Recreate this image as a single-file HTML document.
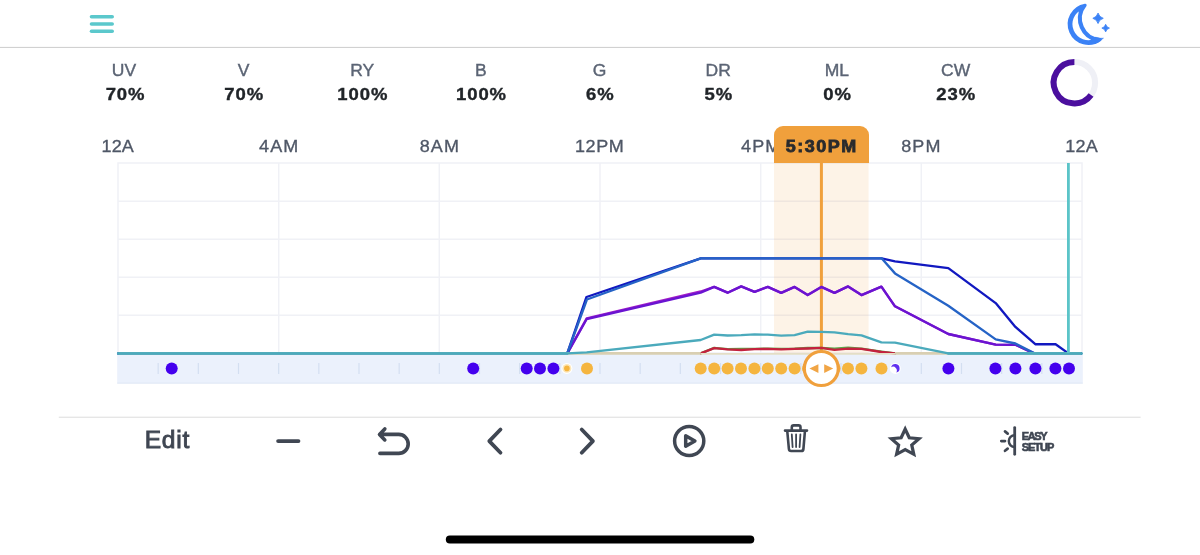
<!DOCTYPE html>
<html lang="en">
<head>
<meta charset="utf-8">
<title>Light Schedule</title>
<style>
  html,body{margin:0;padding:0;background:#fff;}
  body{width:1200px;height:555px;position:relative;overflow:hidden;font-family:"Liberation Sans",Arial,sans-serif;}
  #gfx{position:absolute;left:0;top:0;width:1200px;height:555px;}
  .chan{position:absolute;top:60px;width:118.67px;text-align:center;}
  .chan .l{font-size:17.5px;line-height:22px;color:#5b6474;height:22px;-webkit-text-stroke:0.4px #5b6474;position:relative;left:0px;transform:scaleY(0.92);transform-origin:50% 48%;}
  .chan .v{font-size:18.5px;line-height:24px;font-weight:bold;color:#212529;letter-spacing:0.9px;height:24px;-webkit-text-stroke:0.4px #212529;position:relative;left:0.6px;transform:scaleY(0.91);transform-origin:50% 58%;}
  .tick{position:absolute;top:136px;width:80px;margin-left:-40px;text-align:center;font-size:18px;line-height:20px;color:#4f5766;letter-spacing:1.1px;text-indent:1.1px;-webkit-text-stroke:0.35px #4f5766;transform:scaleY(0.94);transform-origin:50% 82%;}
  .tick.n{letter-spacing:0.2px;text-indent:0.2px;}
  .tick.m{letter-spacing:0.6px;text-indent:0.6px;}
  .tip{position:absolute;left:774px;top:126px;width:94.7px;height:37px;background:#f0a03c;border-radius:9px 9px 0 0;text-align:center;font-weight:bold;font-size:18px;line-height:41px;color:#2a2a2a;letter-spacing:1.5px;text-indent:0.4px;-webkit-text-stroke:0.85px #2a2c31;}
  .tip span{display:inline-block;transform:scaleY(0.94);transform-origin:50% 70%;}
  .edit{position:absolute;left:117px;top:424.4px;width:100px;text-align:center;font-size:24.6px;line-height:32px;color:#3f4652;-webkit-text-stroke:0.9px #3f4652;letter-spacing:0.75px;text-indent:0.75px;}
  .easy{position:absolute;left:1021.8px;top:431px;font-weight:bold;font-size:11px;line-height:11px;color:#3f4652;letter-spacing:-1.4px;-webkit-text-stroke:0.6px #3f4652;white-space:nowrap;}
  .easy span{letter-spacing:-1.05px;}
</style>
</head>
<body>
<svg id="gfx" viewBox="0 0 1200 555" width="1200" height="555">
  <!-- separators -->
  <rect x="0" y="46.9" width="1200" height="1" fill="#cdcdcd"/>
  <rect x="58.8" y="416.7" width="1081.8" height="1" fill="#dcdcdc"/>
  <!-- home indicator -->
  <rect x="445.8" y="535.4" width="308.5" height="8" rx="4" fill="#000"/>
  <!-- hamburger -->
  <g stroke="#5bc8cc" stroke-width="3.6" stroke-linecap="round">
    <line x1="91.5" y1="16.7" x2="112.2" y2="16.7"/>
    <line x1="91.5" y1="24" x2="112.2" y2="24"/>
    <line x1="91.5" y1="31.2" x2="112.2" y2="31.2"/>
  </g>
  <!-- moon -->
  <g id="moon" fill="#3b82f6">
    <path fill-rule="evenodd" stroke="#3b82f6" stroke-width="3" stroke-linejoin="round" d="M1085.15 5.19 A19.25 19.25 0 1 0 1100.12 39.46 A21.10 21.10 0 0 1 1085.15 5.19 Z M1082.09 7.79 A17.55 17.55 0 1 0 1096.13 39.93 A22.20 22.20 0 0 1 1082.09 7.79 Z"/>
    <path stroke="#3b82f6" stroke-width="0.3" stroke-linejoin="round" d="M1095 43.68 A20.6 20.6 0 0 0 1103.65 38.05 A19.75 19.75 0 0 1 1095 37.03 Z"/>
    <path stroke="#3b82f6" stroke-width="0.9" stroke-linejoin="round" d="M1098.05 13.100000000000001 Q1099.1499999999999 17.2 1103.25 18.3 Q1099.1499999999999 19.400000000000002 1098.05 23.5 Q1096.95 19.400000000000002 1092.85 18.3 Q1096.95 17.2 1098.05 13.100000000000001 Z"/>
    <path stroke="#3b82f6" stroke-width="0.8" stroke-linejoin="round" d="M1105.65 24.3 Q1106.45 27.3 1109.45 28.1 Q1106.45 28.900000000000002 1105.65 31.900000000000002 Q1104.8500000000001 28.900000000000002 1101.8500000000001 28.1 Q1104.8500000000001 27.3 1105.65 24.3 Z"/>
  </g>
  <!-- progress ring -->
  <circle cx="1074.4" cy="82.7" r="20.7" fill="none" stroke="#eff0f6" stroke-width="6"/>
  <path d="M1074.4 62 A20.7 20.7 0 1 0 1091.06 94.98" fill="none" stroke="#4b0f9e" stroke-width="6"/>

  <!-- chart grid -->
  <g stroke="#f0f1f6" stroke-width="1.5" fill="none">
    <rect x="118" y="163" width="964" height="190"/>
    <line x1="118" y1="201.2" x2="1082" y2="201.2"/>
    <line x1="118" y1="239.2" x2="1082" y2="239.2"/>
    <line x1="118" y1="277.2" x2="1082" y2="277.2"/>
    <line x1="118" y1="315.2" x2="1082" y2="315.2"/>
    <line x1="278.7" y1="163" x2="278.7" y2="353"/>
    <line x1="439.3" y1="163" x2="439.3" y2="353"/>
    <line x1="600" y1="163" x2="600" y2="353"/>
    <line x1="760.7" y1="163" x2="760.7" y2="353"/>
    <line x1="921.3" y1="163" x2="921.3" y2="353"/>
  </g>
  <!-- selection band -->
  <rect x="774" y="163" width="94.6" height="190" fill="#f0a03c" fill-opacity="0.12"/>
  <!-- timeline band -->
  <rect x="117.2" y="354" width="965.6" height="29.5" fill="#ebf1fc"/>
  <rect x="117.2" y="382.6" width="965.6" height="1" fill="#dfe8f5"/>
  <g stroke="#d3dff1" stroke-width="1.2"><line x1="158.17" y1="363" x2="158.17" y2="374"/><line x1="198.33" y1="363" x2="198.33" y2="374"/><line x1="238.50" y1="363" x2="238.50" y2="374"/><line x1="278.67" y1="363" x2="278.67" y2="374"/><line x1="318.83" y1="363" x2="318.83" y2="374"/><line x1="359.00" y1="363" x2="359.00" y2="374"/><line x1="399.17" y1="363" x2="399.17" y2="374"/><line x1="439.33" y1="363" x2="439.33" y2="374"/><line x1="479.50" y1="363" x2="479.50" y2="374"/><line x1="519.67" y1="363" x2="519.67" y2="374"/><line x1="559.83" y1="363" x2="559.83" y2="374"/><line x1="600.00" y1="363" x2="600.00" y2="374"/><line x1="640.17" y1="363" x2="640.17" y2="374"/><line x1="680.33" y1="363" x2="680.33" y2="374"/><line x1="720.50" y1="363" x2="720.50" y2="374"/><line x1="760.67" y1="363" x2="760.67" y2="374"/><line x1="800.83" y1="363" x2="800.83" y2="374"/><line x1="841.00" y1="363" x2="841.00" y2="374"/><line x1="881.17" y1="363" x2="881.17" y2="374"/><line x1="921.33" y1="363" x2="921.33" y2="374"/><line x1="961.50" y1="363" x2="961.50" y2="374"/><line x1="1001.67" y1="363" x2="1001.67" y2="374"/><line x1="1041.83" y1="363" x2="1041.83" y2="374"/></g>

  <!-- selection line -->
  <line x1="821.4" y1="160" x2="821.4" y2="353" stroke="#f0a03c" stroke-width="3"/>
  <!-- series -->
  <g fill="none" stroke-width="2.35" stroke-linejoin="round" stroke-linecap="round">
    <polyline stroke="#a31cc8" points="118.6,353.4 567.3,353.4 586.7,318.4 700.7,291.5 714.2,286.9 727.6,292.7 741.2,286.4 754.6,291.9 767.8,286.9 781.2,292.9 794.6,286.9 807.7,295.1 821.3,286.9 834.5,292.9 848.1,286.4 861.5,295.1 881.4,286.6 895,306.3 948.3,334.0 995.7,344.6 1015.4,344.8 1034,353.4 1081,353.4"/>
    <polyline stroke="#6a14d1" points="118.6,353.4 567.3,353.4 586.7,319.0 700.7,292.6 714.2,286.9 727.6,292.7 741.2,286.4 754.6,291.9 767.8,286.9 781.2,292.9 794.6,286.9 807.7,295.1 821.3,286.9 834.5,292.9 848.1,286.4 861.5,295.1 881.4,286.6 895,306.3 948.3,334.0 995.7,344.6 1015.4,344.8 1034,353.4 1081,353.4"/>
    <polyline stroke="#1118c0" points="118.6,353.4 567.3,353.4 586.5,297.0 700.7,258.3 881.6,258.3 895,261.4 948.3,268.1 995.7,303.1 1015.4,326.9 1035.3,344.2 1055.6,344.2 1068.4,353.4 1081,353.4"/>
    <polyline stroke="#2563c6" points="118.6,353.4 567.3,353.4 586.9,299.5 700.7,258.4 881.6,258.3 895,273.4 948.3,305.7 995.7,339.4 1015.4,343.5 1034.5,353.4 1081,353.4"/>
    <polyline stroke="#5aa84a" points="700.7,353.4 714.2,347.8 727.6,349.2 741.2,349.0 754.6,348.8 767.8,348.6 781.2,348.8 794.6,348.6 807.7,347.8 821.3,348.0 834.5,348.6 848.1,347.6 861.5,348.6 881.4,351.6 895,353.4"/>
    <polyline stroke="#c4213e" points="700.7,353.4 714.2,348.1 727.6,349.4 741.2,350.0 754.6,349.1 767.8,348.9 781.2,349.4 794.6,348.9 807.7,348.5 821.3,347.8 834.5,349.8 848.1,348.7 861.5,348.9 881.4,352.0 895,353.4"/>
    <polyline stroke="#d9cfb2" stroke-width="2.6" stroke-linecap="butt" points="118.6,353.4 700.7,353.4"/>
    <polyline stroke="#e4dec6" stroke-width="1.6" stroke-linecap="butt" points="700.7,353.9 895,353.9"/>
    <polyline stroke="#d9cfb2" stroke-width="2.6" stroke-linecap="butt" points="895,353.4 1081,353.4"/>
    <polyline stroke="#4baabc" points="118.2,353.4 567.3,353.4 586.7,352.4 700.7,340.0 714.2,334.7 727.6,335.5 741.2,335.1 754.6,334.4 767.8,334.7 781.2,335.7 794.6,335.1 807.7,331.6 821.3,331.9 834.5,332.3 848.1,334.2 861.5,335.3 881.4,342.4 895,342.6 948.3,353.4 1081.5,353.4"/>
    <polyline stroke="#4baabc" stroke-width="2.4" points="118.2,353.5 567.3,353.5"/>
    <polyline stroke="#4baabc" stroke-width="2.4" points="948.3,353.5 1081.5,353.5"/>
  </g>
  <!-- now line -->
  <line x1="1068.4" y1="163" x2="1068.4" y2="353" stroke="#5bc4c8" stroke-width="2.8"/>
  
  <!-- event dots -->
  <g fill="#4400ee">
    <circle cx="171.7" cy="368.4" r="6"/>
    <circle cx="473.2" cy="368.4" r="6"/>
    <circle cx="526.7" cy="368.4" r="6"/>
    <circle cx="540" cy="368.4" r="6"/>
    <circle cx="553.4" cy="368.4" r="6"/>
    <circle cx="948.4" cy="368.4" r="6"/>
    <circle cx="995.4" cy="368.4" r="6"/>
    <circle cx="1015.4" cy="368.4" r="6"/>
    <circle cx="1035.4" cy="368.4" r="6"/>
    <circle cx="1055.4" cy="368.4" r="6"/>
    <circle cx="1069" cy="368.4" r="6"/>
  </g>
  <g fill="#f5b53f">
    <circle cx="587" cy="368.4" r="6"/>
    <circle cx="700.7" cy="368.4" r="6"/>
    <circle cx="714.2" cy="368.4" r="6"/>
    <circle cx="727.6" cy="368.4" r="6"/>
    <circle cx="741" cy="368.4" r="6"/>
    <circle cx="754.4" cy="368.4" r="6"/>
    <circle cx="767.8" cy="368.4" r="6"/>
    <circle cx="781.2" cy="368.4" r="6"/>
    <circle cx="794.6" cy="368.4" r="6"/>
    <circle cx="808" cy="368.4" r="6"/>
    <circle cx="834.6" cy="368.4" r="6"/>
    <circle cx="848" cy="368.4" r="6"/>
    <circle cx="861.4" cy="368.4" r="6"/>
    <circle cx="881.5" cy="368.4" r="6"/>
  </g>
  <!-- sunrise marker -->
  <circle cx="566.9" cy="368.4" r="5.5" fill="#fff"/>
  <circle cx="566.9" cy="368.4" r="4.4" fill="#fce6b8"/>
  <circle cx="566.9" cy="368.4" r="2.8" fill="#f5b53f"/>
  <!-- moon marker -->
  <circle cx="895.3" cy="368.4" r="5.5" fill="#fff"/>
  <path d="M891.16 367.17 A4.3 4.3 0 1 1 896.20 372.56 A3.8 3.8 0 0 0 891.16 367.17 Z" fill="#4a14ee" fill-opacity="0.88"/>
  <!-- handle -->
  <circle cx="821.3" cy="368.5" r="17" fill="#fff" stroke="#f0a03c" stroke-width="3.2"/>
  <path d="M809.4 368.6 L818.4 364.3 L818.4 372.9 Z M833.2 368.6 L824.2 364.3 L824.2 372.9 Z" fill="#f1a545"/>

  <!-- toolbar icons -->
  <g fill="none" stroke="#404753" stroke-linecap="round" stroke-linejoin="round">
    <line x1="278.1" y1="441.1" x2="298.5" y2="441.1" stroke-width="3.8"/>
    <path d="M384.8 428.9 L379.5 434.4 L384.8 439.9 M379.7 434.4 H398.7 A9.5 9.5 0 0 1 398.7 453.4 H379.9" stroke-width="3.6"/>
    <path d="M500.5 429.5 L489.3 441.1 L500.5 452.7" stroke-width="3.8"/>
    <path d="M581.7 429.5 L592.9 441.1 L581.7 452.7" stroke-width="3.8"/>
    <circle cx="689.2" cy="441" r="14.6" stroke-width="3.5"/>
    <path d="M685.7 435.8 L694.9 441 L685.7 446.2 Z" stroke-width="3.5"/>
    <!-- trash -->
    <path d="M785 430.6 H807 M791.8 430 V427.3 Q791.8 425.4 793.7 425.4 H798.6 Q800.5 425.4 800.5 427.3 V430 M787.3 431.5 L788.9 449 Q789.1 451 791.1 451 H801.2 Q803.2 451 803.4 449 L804.9 431.5" stroke-width="2.6"/>
    <path d="M791.8 434.4 L792.6 447 M796.1 434.4 V447 M800.4 434.4 L799.6 447" stroke-width="1.8"/>
    <!-- star -->
    <path transform="translate(905.2 443.05) scale(1 0.954)" d="M0.00 -14.60 L4.06 -5.58 L13.89 -4.51 L6.56 2.13 L8.58 11.81 L0.00 6.90 L-8.58 11.81 L-6.56 2.13 L-13.89 -4.51 L-4.06 -5.58 Z" stroke-width="3.25" stroke-linejoin="miter"/>
    <!-- easy setup icon -->
    <line x1="1014.7" y1="427.6" x2="1014.7" y2="454.3" stroke-width="2.8"/>
    <path d="M1014.7 435.2 A5.9 5.9 0 0 0 1014.7 447" stroke-width="2.5"/>
    <path d="M1001.3 441.1 H1005 M1005 431.4 L1007.7 433.6 M1005 450.8 L1007.7 448.6" stroke-width="2.7"/>
  </g>
</svg>


<div class="chan" style="left:65.6px"><div class="l" style="left:-1px">UV</div><div class="v">70%</div></div>
<div class="chan" style="left:184.3px"><div class="l">V</div><div class="v">70%</div></div>
<div class="chan" style="left:302.9px"><div class="l">RY</div><div class="v">100%</div></div>
<div class="chan" style="left:421.6px"><div class="l">B</div><div class="v">100%</div></div>
<div class="chan" style="left:540.3px"><div class="l">G</div><div class="v">6%</div></div>
<div class="chan" style="left:658.9px"><div class="l">DR</div><div class="v">5%</div></div>
<div class="chan" style="left:777.6px"><div class="l">ML</div><div class="v">0%</div></div>
<div class="chan" style="left:896.3px"><div class="l">CW</div><div class="v">23%</div></div>

<div class="tick n" style="left:117.7px">12A</div>
<div class="tick" style="left:278.7px">4AM</div>
<div class="tick" style="left:439.3px">8AM</div>
<div class="tick m" style="left:599.4px">12PM</div>
<div class="tick" style="left:760.7px">4PM</div>
<div class="tick" style="left:920.8px">8PM</div>
<div class="tick n" style="left:1081.5px">12A</div>
<div class="tip"><span>5:30PM</span></div>

<div class="edit">Edit</div>
<div class="easy">EASY<br><span>SETUP</span></div>

</body>
</html>
